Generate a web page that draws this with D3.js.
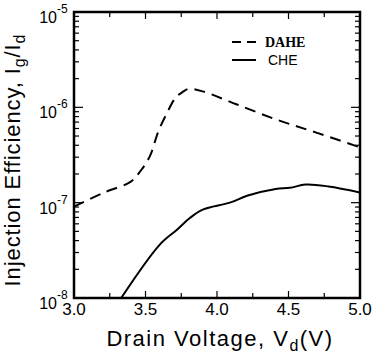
<!DOCTYPE html>
<html><head><meta charset="utf-8">
<script src="https://cdn.jsdelivr.net/npm/d3@7/dist/d3.min.js"></script>
<style>body{margin:0;background:#fff}svg{display:block}</style>
</head><body>
<svg id="c" width="376" height="354"></svg>
<script>
const dahe = [
  [3.00, 9.1e-8],[3.20, 1.26e-7],[3.40, 1.67e-7],[3.47, 2.2e-7],[3.53, 3.06e-7],
  [3.59, 5.6e-7],[3.65, 8.7e-7],[3.71, 1.26e-6],[3.76, 1.45e-6],[3.80, 1.56e-6],[3.90, 1.47e-6],
  [4.14, 1.07e-6],[4.42, 7.4e-7],[4.70, 5.4e-7],[5.00, 3.8e-7]
];
const che = [
  [3.33, 1.0e-8],[3.60, 3.63e-8],[3.72, 5.2e-8],[3.81, 6.9e-8],[3.90, 8.45e-8],
  [4.09, 1.0e-7],[4.21, 1.18e-7],[4.41, 1.39e-7],[4.51, 1.43e-7],[4.62, 1.55e-7],
  [4.78, 1.48e-7],[5.00, 1.28e-7]
];
const xTicks = [3.0, 3.5, 4.0, 4.5, 5.0];
const xMinor = [3.25, 3.75, 4.25, 4.75];
const yExps = [-5, -6, -7, -8];
const seriesNames = ["DAHE", "CHE"];

const svg = d3.select("#c");
const L = 74, R = 360, T = 12, B = 298;
const x = d3.scaleLinear().domain([3, 5]).range([L, R]);
const y = d3.scaleLog().domain([1e-8, 1e-5]).range([B, T]);

const g = svg.append("g");
svg.append("clipPath").attr("id","clp").append("rect").attr("x",L).attr("y",T).attr("width",R-L).attr("height",B-T);

const line = d3.line().x(d=>x(d[0])).y(d=>y(d[1])).curve(d3.curveCatmullRom.alpha(0.5));
g.append("path").datum(dahe).attr("d", line).attr("fill","none").attr("stroke","#000")
  .attr("stroke-width",2).attr("stroke-dasharray","11,7").attr("clip-path","url(#clp)");
g.append("path").datum(che).attr("d", line).attr("fill","none").attr("stroke","#000")
  .attr("stroke-width",2).attr("clip-path","url(#clp)");

// ticks
const tk = svg.append("g").attr("stroke","#000").attr("stroke-width",1.2);
xTicks.forEach(v=>{
  tk.append("line").attr("x1",x(v)).attr("x2",x(v)).attr("y1",B).attr("y2",B-7);
  tk.append("line").attr("x1",x(v)).attr("x2",x(v)).attr("y1",T).attr("y2",T+7);
});
xMinor.forEach(v=>{
  tk.append("line").attr("x1",x(v)).attr("x2",x(v)).attr("y1",B).attr("y2",B-5);
  tk.append("line").attr("x1",x(v)).attr("x2",x(v)).attr("y1",T).attr("y2",T+5);
});
const yMinor = [];
[-8,-7,-6].forEach(e=>{ for(let k=2;k<=9;k++) yMinor.push(k*Math.pow(10,e)); });
yMinor.forEach(v=>{
  tk.append("line").attr("x1",L).attr("x2",L+5).attr("y1",y(v)).attr("y2",y(v));
  tk.append("line").attr("x1",R).attr("x2",R-5).attr("y1",y(v)).attr("y2",y(v));
});
yExps.forEach(e=>{
  const v = Math.pow(10,e);
  tk.append("line").attr("x1",L).attr("x2",L+9).attr("y1",y(v)).attr("y2",y(v));
  tk.append("line").attr("x1",R).attr("x2",R-9).attr("y1",y(v)).attr("y2",y(v));
});

// frame
svg.append("rect").attr("x",L).attr("y",T).attr("width",R-L).attr("height",B-T)
  .attr("fill","none").attr("stroke","#000").attr("stroke-width",2.5);

const font = "Liberation Sans, Arial, Helvetica, sans-serif";
xTicks.forEach(v=>{
  svg.append("text").attr("x",x(v)).attr("y",315).attr("text-anchor","middle")
    .attr("font-family",font).attr("font-size",17).text(v.toFixed(1));
});
yExps.forEach(e=>{
  const yy = y(Math.pow(10,e));
  svg.append("text").attr("x",57).attr("y",yy+11).attr("text-anchor","end")
    .attr("font-family",font).attr("font-size",16).text("10");
  svg.append("text").attr("x",57).attr("y",yy+1).attr("font-family",font).attr("font-size",12).text(String(e));
});

// axis titles
const xt = svg.append("text").attr("x",220).attr("y",346).attr("text-anchor","middle")
  .attr("font-family",font).attr("font-size",22).attr("letter-spacing",1.5);
xt.append("tspan").text("Drain Voltage, V");
xt.append("tspan").attr("font-size",16).attr("dy",5).text("d");
xt.append("tspan").attr("dy",-5).text("(V)");

const yt = svg.append("text").attr("transform","translate(20,160) rotate(-90)").attr("text-anchor","middle")
  .attr("font-family",font).attr("font-size",22).attr("letter-spacing",0.9);
yt.append("tspan").text("Injection Efficiency, I");
yt.append("tspan").attr("font-size",16).attr("dy",5).text("g");
yt.append("tspan").attr("dy",-5).text("/I");
yt.append("tspan").attr("font-size",16).attr("dy",5).text("d");

// legend
const lg = svg.append("g");
lg.append("line").attr("x1",232).attr("x2",256).attr("y1",42).attr("y2",42).attr("stroke","#000")
  .attr("stroke-width",2).attr("stroke-dasharray","9,6");
lg.append("line").attr("x1",232).attr("x2",256).attr("y1",60).attr("y2",60).attr("stroke","#000")
  .attr("stroke-width",2);
lg.append("text").attr("x",265).attr("y",47).attr("font-family","Liberation Serif, Times New Roman, serif")
  .attr("font-weight","bold").attr("font-size",14).text(seriesNames[0]);
lg.append("text").attr("x",268).attr("y",65).attr("font-family",font).attr("font-size",14).text(seriesNames[1]);
</script>
</body></html>
